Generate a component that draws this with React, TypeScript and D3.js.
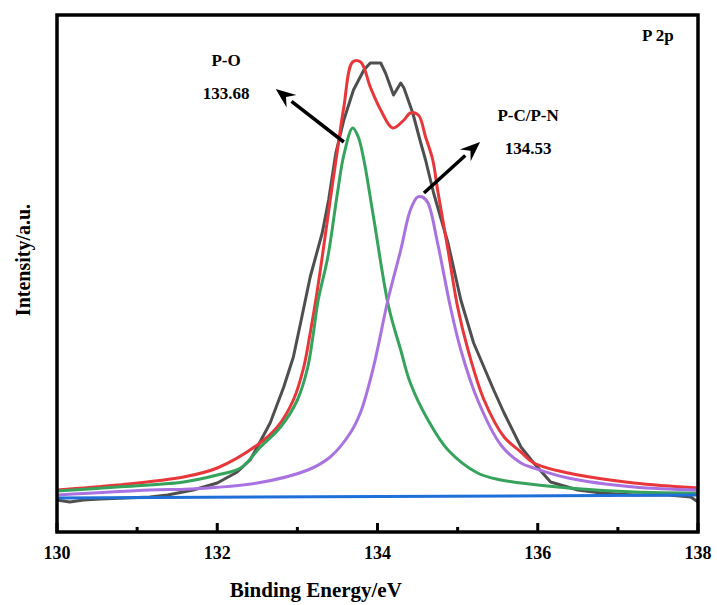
import React, { useRef, useEffect } from "react";
import * as d3 from "d3";

// Energía de enlace (eV) y cuentas
const rawE = [130.0, 130.16, 130.33, 130.54, 131.16, 131.38, 131.7, 132.0, 132.25, 132.41, 132.5, 132.66, 132.83, 132.95, 133.04, 133.1, 133.16, 133.31, 133.39, 133.48, 133.58, 133.7, 133.83, 133.91, 134.04, 134.1, 134.2, 134.29, 134.33, 134.44, 134.54, 134.6, 134.7, 134.88, 135.04, 135.2, 135.45, 135.58, 135.79, 135.95, 136.16, 136.5, 136.79, 137.2, 137.63, 137.91, 138.0];
const rawI = [-30, -50, -30, -20, 0, 20, 70, 140, 250, 370, 500, 740, 1100, 1400, 1740, 1970, 2200, 2640, 2970, 3440, 3770, 4070, 4270, 4340, 4340, 4240, 4020, 4140, 4090, 3840, 3540, 3370, 3040, 2540, 1970, 1540, 1070, 840, 500, 340, 150, 70, 40, 20, 20, 0, -50];

const envE = [130.0, 130.75, 131.58, 132.0, 132.5, 132.75, 132.95, 133.08, 133.16, 133.23, 133.31, 133.41, 133.5, 133.58, 133.69, 133.79, 133.91, 134.04, 134.19, 134.33, 134.41, 134.51, 134.6, 134.69, 134.75, 134.88, 135.0, 135.13, 135.33, 135.58, 135.79, 135.95, 136.38, 137.2, 138.0];
const envI = [70, 120, 200, 290, 520, 700, 970, 1300, 1640, 1970, 2400, 2970, 3470, 3900, 4350, 4350, 4100, 3870, 3690, 3770, 3840, 3820, 3600, 3370, 3070, 2470, 1900, 1470, 970, 600, 450, 340, 240, 140, 90];

const poE = [130.0, 130.75, 131.58, 132.0, 132.29, 132.54, 132.79, 133.0, 133.13, 133.2, 133.26, 133.38, 133.5, 133.58, 133.69, 133.76, 133.83, 133.95, 134.14, 134.29, 134.41, 134.63, 134.88, 135.25, 135.54, 135.79, 136.38, 137.2, 138.0];
const poI = [60, 100, 150, 220, 290, 500, 700, 970, 1300, 1640, 1970, 2400, 3040, 3420, 3690, 3600, 3370, 2800, 1900, 1470, 1140, 770, 470, 240, 170, 140, 90, 50, 40];

const pcE = [130.0, 131.16, 131.66, 132.5, 133.13, 133.41, 133.66, 133.79, 133.95, 134.13, 134.29, 134.41, 134.5, 134.56, 134.63, 134.75, 134.91, 135.04, 135.25, 135.54, 135.79, 135.95, 136.38, 137.2, 138.0];
const pcI = [20, 70, 80, 140, 270, 400, 640, 850, 1300, 1970, 2470, 2870, 3000, 3000, 2940, 2540, 1900, 1470, 970, 520, 340, 290, 190, 100, 70];

const bgE = [130.0, 138.0];
const bgI = [-10, 20];

const xTicks = [130, 132, 134, 136, 138];
const xMinor = [131, 133, 135, 137];

// Anotaciones: texto y flechas (origen -> punta) en coordenadas de datos
const peakLabels = [
  { name: "P-O", value: "133.68", e: 132.11, i: 4310, from: [133.58, 3550], to: [132.73, 4080] },
  { name: "P-C/P-N", value: "134.53", e: 135.88, i: 3760, from: [134.58, 3040], to: [135.28, 3550] },
];

const smooth = d3.curveCatmullRom.alpha(0.5);
const series = [
  { e: rawE, i: rawI, color: "#4f4f4f", curve: d3.curveLinear },
  { e: envE, i: envI, color: "#e8373a", curve: smooth },
  { e: poE, i: poI, color: "#35a35c", curve: smooth },
  { e: pcE, i: pcI, color: "#a873e0", curve: smooth },
  { e: bgE, i: bgI, color: "#1f6fd8", curve: d3.curveLinear },
];

const XpsChart = ({ width = 717, height = 605 }) => {
  const ref = useRef(null);

  useEffect(() => {
    const container = ref.current;
    if (!container) return;
    d3.select(container).selectChildren().remove();

    const margin = { top: 15, right: 19, bottom: 73, left: 57 };
    const w = width - margin.left - margin.right;
    const h = height - margin.top - margin.bottom;
    const font = "'Liberation Serif', 'Times New Roman', serif";

    const svg = d3
      .select(container)
      .append("g")
      .attr("transform", `translate(${margin.left}, ${margin.top})`);

    const x = d3.scaleLinear().domain([130, 138]).range([0, w]);
    const y = d3.scaleLinear().domain([-350, 4820]).range([h, 0]);

    // Curvas
    const plot = svg.append("g");
    series.forEach((s) => {
      const line = d3
        .line()
        .x((d) => x(d[0]))
        .y((d) => y(d[1]))
        .curve(s.curve);
      plot
        .append("path")
        .attr("d", line(s.e.map((v, k) => [v, s.i[k]])))
        .attr("fill", "none")
        .attr("stroke", s.color)
        .attr("stroke-width", 3)
        .attr("stroke-linejoin", "round");
    });

    // Marco
    svg
      .append("rect")
      .attr("width", w)
      .attr("height", h)
      .attr("fill", "none")
      .attr("stroke", "black")
      .attr("stroke-width", 3.5);

    // Eje X (marcas hacia dentro)
    const axis = svg.append("g").attr("transform", `translate(0, ${h})`);
    axis
      .selectAll("line.major")
      .data(xTicks)
      .enter()
      .append("line")
      .attr("x1", (d) => x(d))
      .attr("x2", (d) => x(d))
      .attr("y1", 0)
      .attr("y2", -9)
      .attr("stroke", "black")
      .attr("stroke-width", 3);
    axis
      .selectAll("line.minor")
      .data(xMinor)
      .enter()
      .append("line")
      .attr("x1", (d) => x(d))
      .attr("x2", (d) => x(d))
      .attr("y1", 0)
      .attr("y2", -5)
      .attr("stroke", "black")
      .attr("stroke-width", 3);
    axis
      .selectAll("text")
      .data(xTicks)
      .enter()
      .append("text")
      .attr("x", (d) => x(d))
      .attr("y", 27)
      .attr("text-anchor", "middle")
      .style("font-family", font)
      .style("font-weight", "bold")
      .style("font-size", "18px")
      .text((d) => d);

    // Títulos de ejes
    svg
      .append("text")
      .attr("x", x(133.23))
      .attr("y", h + 65)
      .attr("text-anchor", "middle")
      .style("font-family", font)
      .style("font-weight", "bold")
      .style("font-size", "21px")
      .text("Binding Energy/eV");
    svg
      .append("text")
      .attr("transform", `translate(${-27}, ${245}) rotate(-90)`)
      .attr("text-anchor", "middle")
      .style("font-family", font)
      .style("font-weight", "bold")
      .style("font-size", "20px")
      .text("Intensity/a.u.");

    svg
      .append("text")
      .attr("x", x(137.5))
      .attr("y", y(4560))
      .attr("text-anchor", "middle")
      .style("font-family", font)
      .style("font-weight", "bold")
      .style("font-size", "17px")
      .text("P 2p");

    // Etiquetas de picos y flechas
    peakLabels.forEach((p) => {
      const g = svg.append("g");
      g.append("text")
        .attr("x", x(p.e))
        .attr("y", y(p.i))
        .attr("text-anchor", "middle")
        .style("font-family", font)
        .style("font-weight", "bold")
        .style("font-size", "17px")
        .text(p.name);
      g.append("text")
        .attr("x", x(p.e))
        .attr("y", y(p.i) + 33)
        .attr("text-anchor", "middle")
        .style("font-family", font)
        .style("font-weight", "bold")
        .style("font-size", "17px")
        .text(p.value);

      const x0 = x(p.from[0]), y0 = y(p.from[1]);
      const x1 = x(p.to[0]), y1 = y(p.to[1]);
      const ang = Math.atan2(y1 - y0, x1 - x0);
      const headLen = 20, headW = 8;
      const bx = x1 - headLen * Math.cos(ang), by = y1 - headLen * Math.sin(ang);
      g.append("line")
        .attr("x1", x0)
        .attr("y1", y0)
        .attr("x2", bx)
        .attr("y2", by)
        .attr("stroke", "black")
        .attr("stroke-width", 3.5);
      const pts = [
        [x1, y1],
        [bx + headW * Math.sin(ang), by - headW * Math.cos(ang)],
        [bx + 0.35 * headLen * Math.cos(ang), by + 0.35 * headLen * Math.sin(ang)],
        [bx - headW * Math.sin(ang), by + headW * Math.cos(ang)],
      ];
      g.append("polygon")
        .attr("points", pts.map((q) => q.join(",")).join(" "))
        .attr("fill", "black");
    });
  }, [width, height]);

  return (
    <svg
      ref={ref}
      width={width}
      height={height}
      style={{ position: "absolute", left: 0, top: 0, background: "white" }}
    />
  );
};

export default function App() {
  return <XpsChart />;
}
